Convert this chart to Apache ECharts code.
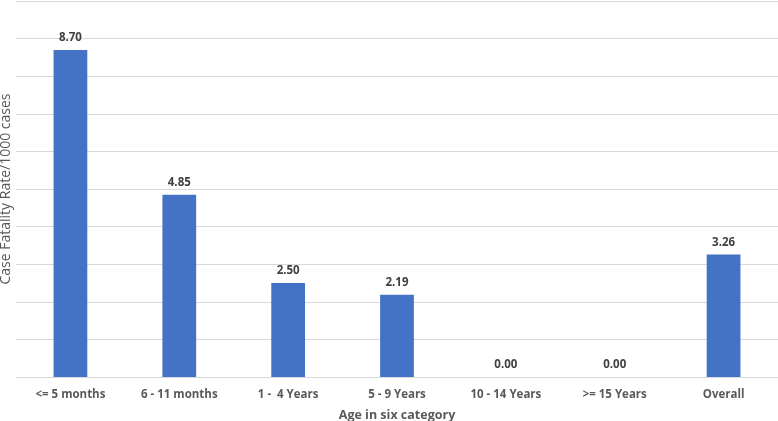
<!DOCTYPE html>
<html><head><meta charset="utf-8">
<script src="https://cdn.jsdelivr.net/npm/echarts@6/dist/echarts.min.js"></script>
<style>html,body{margin:0;padding:0;background:#fff}#c{width:778px;height:421px}</style>
</head><body><div id="c"></div>
<script>
const categories = ['<= 5 months', '6 - 11 months', '1 -  4 Years', '5 - 9 Years', '10 - 14 Years', '>= 15 Years', 'Overall'];
const values = [8.70, 4.85, 2.50, 2.19, 0.00, 0.00, 3.26];
const chart = echarts.init(document.getElementById('c'));
const font = 'Open Sans';
chart.setOption({
  animation: false,
  grid: { left: 16, right: 0, top: 1, bottom: 44, containLabel: false, outerBoundsMode: 'none' },
  xAxis: {
    type: 'category', data: categories,
    axisLine: { lineStyle: { color: '#d9d9d9', width: 1 } },
    axisTick: { show: false },
    axisLabel: { color: '#595959', fontWeight: 'bold', fontSize: 11.5, fontFamily: font, margin: 12, interval: 0 },
    name: 'Age in six category', nameLocation: 'middle', nameGap: 32,
    nameTextStyle: { color: '#595959', fontWeight: 'bold', fontSize: 12.5, fontFamily: font }
  },
  yAxis: {
    type: 'value', min: 0, max: 10, interval: 1,
    axisLabel: { show: false },
    axisLine: { show: false }, axisTick: { show: false },
    splitLine: { lineStyle: { color: '#d9d9d9', width: 1 } },
    name: 'Case Fatality Rate/1000 cases', nameLocation: 'middle', nameGap: 3, nameRotate: 90,
    nameTextStyle: { color: '#595959', fontSize: 14, fontFamily: font }
  },
  series: [{
    type: 'bar', data: values, barWidth: '31%',
    itemStyle: { color: '#4472c4' },
    label: { show: true, position: 'top', distance: 6, color: '#404040', fontWeight: 'bold', fontSize: 11.5, fontFamily: font,
      formatter: p => p.value.toFixed(2) }
  }]
});
</script></body></html>
